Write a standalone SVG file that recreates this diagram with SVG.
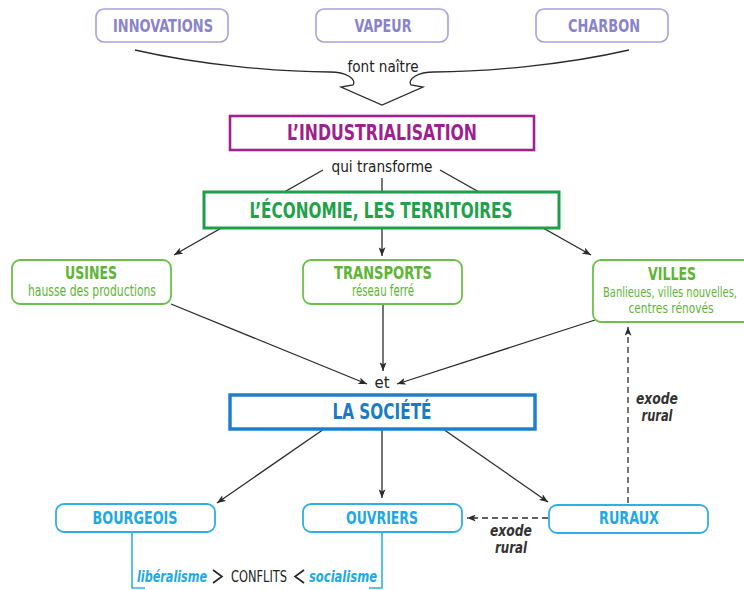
<svg xmlns="http://www.w3.org/2000/svg" width="744" height="590" viewBox="0 0 744 590">
<style>
text{font-family:"Liberation Sans Narrow","DejaVu Sans Condensed","Liberation Sans",sans-serif;text-anchor:middle}
.b{font-weight:bold}
.top rect{fill:#fff;stroke:#a9a1da;stroke-width:1.6}
.top text{fill:#8a83c9;font-size:18px;font-weight:bold}
.grn rect{fill:#fff;stroke:#6cc04a;stroke-width:1.8}
.grn text{fill:#5db533}
.blu rect{fill:#fff;stroke:#30afe6;stroke-width:1.8}
.blu text{fill:#1ea8e4;font-size:17px;font-weight:bold}
.lbl{fill:#222;font-size:16px}
.it{font-style:italic;font-weight:bold;fill:#333;font-size:15px}
.ln{fill:none;stroke:#2b2b2b;stroke-width:1.3}
.dash{fill:none;stroke:#2b2b2b;stroke-width:1.3;stroke-dasharray:6,4}
</style>
<defs>
<marker id="ah" viewBox="0 0 10 8" refX="10" refY="4" markerWidth="9" markerHeight="7" markerUnits="userSpaceOnUse" orient="auto">
<path d="M0,0 L10,4 L0,8 L2.5,4 Z" fill="#2b2b2b"/>
</marker>
</defs>

<g id="connectors">
<path class="ln" d="M135,50 C200,65 280,72 330,72 C346,72 357,79 353,85 L341,87 L382,105 L423,87 L411,85 C407,79 418,72 434,72 C484,72 564,65 629,50"/>
<line class="ln" x1="323" y1="170" x2="174" y2="255" marker-end="url(#ah)"/>
<line class="ln" x1="382" y1="178" x2="382" y2="256" marker-end="url(#ah)"/>
<line class="ln" x1="440" y1="170" x2="591" y2="255" marker-end="url(#ah)"/>
<line class="ln" x1="171" y1="304" x2="367" y2="384" marker-end="url(#ah)"/>
<line class="ln" x1="383" y1="304" x2="383" y2="371" marker-end="url(#ah)"/>
<line class="ln" x1="595" y1="320" x2="397" y2="384" marker-end="url(#ah)"/>
<line class="ln" x1="324" y1="429" x2="217" y2="503" marker-end="url(#ah)"/>
<line class="ln" x1="382" y1="429" x2="382" y2="498" marker-end="url(#ah)"/>
<line class="ln" x1="443" y1="429" x2="548" y2="502" marker-end="url(#ah)"/>
<line class="dash" x1="548" y1="518" x2="467" y2="518" marker-end="url(#ah)"/>
<line class="dash" x1="628" y1="503" x2="628" y2="327" marker-end="url(#ah)"/>
<path d="M132,532 V588 H145 M382,532 V588 H369" fill="none" stroke="#30afe6" stroke-width="1.6"/>
</g>

<g id="innovations" class="top"><rect x="96" y="9" width="132" height="33" rx="8"/><text x="163" y="32" textLength="100" lengthAdjust="spacingAndGlyphs">INNOVATIONS</text></g>
<g id="vapeur" class="top"><rect x="316" y="9" width="132" height="33" rx="8"/><text x="383" y="32" textLength="57" lengthAdjust="spacingAndGlyphs">VAPEUR</text></g>
<g id="charbon" class="top"><rect x="536" y="9" width="132" height="33" rx="8"/><text x="604" y="32" textLength="72" lengthAdjust="spacingAndGlyphs">CHARBON</text></g>

<text class="lbl" x="383" y="72" font-size="15" textLength="71" lengthAdjust="spacingAndGlyphs">font naître</text>

<g id="industrialisation"><rect x="230" y="116" width="304" height="34" fill="#fff" stroke="#a0228f" stroke-width="2.6"/><text class="b" x="382" y="140" font-size="22" fill="#9e1f8e" textLength="190" lengthAdjust="spacingAndGlyphs">L’INDUSTRIALISATION</text></g>

<text class="lbl" x="382" y="172" textLength="101" lengthAdjust="spacingAndGlyphs">qui transforme</text>

<g id="economie"><rect x="204" y="192" width="355" height="36" fill="#fff" stroke="#1f9e4a" stroke-width="3"/><text class="b" x="381" y="218" font-size="22" fill="#22a04a" textLength="263" lengthAdjust="spacingAndGlyphs">L’ÉCONOMIE, LES TERRITOIRES</text></g>

<g id="usines" class="grn"><rect x="12" y="260" width="159" height="44" rx="8"/><text class="b" x="91" y="279" font-size="18" textLength="52" lengthAdjust="spacingAndGlyphs">USINES</text><text x="92" y="296" font-size="15" textLength="128" lengthAdjust="spacingAndGlyphs">hausse des productions</text></g>
<g id="transports" class="grn"><rect x="303" y="260" width="159" height="44" rx="8"/><text class="b" x="383" y="279" font-size="18" textLength="98" lengthAdjust="spacingAndGlyphs">TRANSPORTS</text><text x="383" y="296" font-size="15" textLength="62" lengthAdjust="spacingAndGlyphs">réseau ferré</text></g>
<g id="villes" class="grn"><rect x="593" y="260" width="160" height="62" rx="8"/><text class="b" x="672" y="280" font-size="18" textLength="48" lengthAdjust="spacingAndGlyphs">VILLES</text><text x="670" y="297" font-size="14" textLength="134" lengthAdjust="spacingAndGlyphs">Banlieues, villes nouvelles,</text><text x="671" y="313" font-size="14" textLength="85" lengthAdjust="spacingAndGlyphs">centres rénovés</text></g>

<text class="lbl" x="382" y="388" textLength="15" lengthAdjust="spacingAndGlyphs">et</text>

<g id="societe"><rect x="230" y="395" width="305" height="34" fill="#fff" stroke="#1f7fc8" stroke-width="3.5"/><text class="b" x="382" y="419" font-size="22" fill="#1b7bc4" textLength="99" lengthAdjust="spacingAndGlyphs">LA SOCIÉTÉ</text></g>

<g id="bourgeois" class="blu"><rect x="56" y="504" width="159" height="28" rx="8"/><text x="135" y="524" textLength="85" lengthAdjust="spacingAndGlyphs">BOURGEOIS</text></g>
<g id="ouvriers" class="blu"><rect x="303" y="504" width="159" height="28" rx="8"/><text x="382" y="524" textLength="72" lengthAdjust="spacingAndGlyphs">OUVRIERS</text></g>
<g id="ruraux" class="blu"><rect x="549" y="505" width="159" height="28" rx="8"/><text x="629" y="524" textLength="60" lengthAdjust="spacingAndGlyphs">RURAUX</text></g>

<g id="exode-labels">
<text class="it" x="657" y="404" textLength="42" lengthAdjust="spacingAndGlyphs">exode</text>
<text class="it" x="657" y="421" textLength="31" lengthAdjust="spacingAndGlyphs">rural</text>
<text class="it" x="511" y="536" font-size="14" textLength="42" lengthAdjust="spacingAndGlyphs">exode</text>
<text class="it" x="511" y="553" font-size="14" textLength="32" lengthAdjust="spacingAndGlyphs">rural</text>
</g>

<g id="conflits">
<text x="172" y="582" font-size="16" font-style="italic" font-weight="bold" fill="#1ea8e4" textLength="70" lengthAdjust="spacingAndGlyphs">libéralisme</text>
<polyline points="213,570 222,576.5 213,583" fill="none" stroke="#222" stroke-width="1.6"/>
<text x="259" y="582" font-size="15" fill="#222" textLength="56" lengthAdjust="spacingAndGlyphs">CONFLITS</text>
<polyline points="304,570 295,576.5 304,583" fill="none" stroke="#222" stroke-width="1.6"/>
<text x="343" y="582" font-size="16" font-style="italic" font-weight="bold" fill="#1ea8e4" textLength="68" lengthAdjust="spacingAndGlyphs">socialisme</text>
</g>
</svg>
